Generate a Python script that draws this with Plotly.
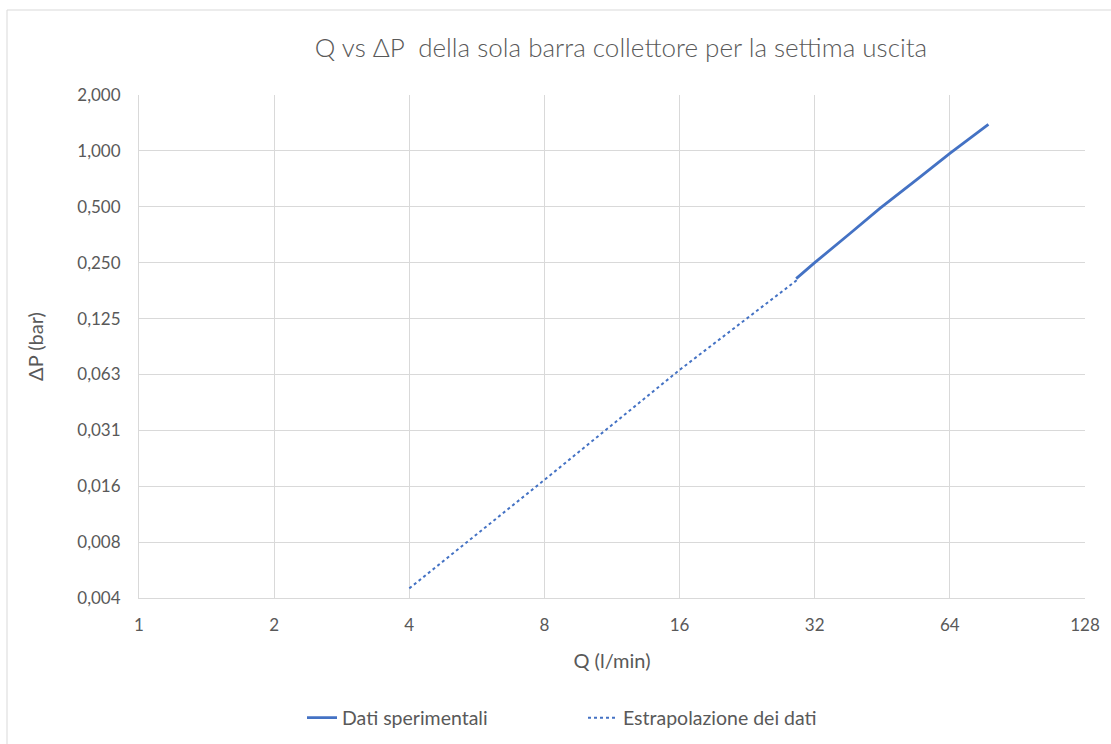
import math
import plotly.graph_objects as go

# Data
q_exp = [29.1, 32.0, 38.4, 44.7, 54.0, 64.0, 78.0]
dp_exp = [0.205, 0.250, 0.360, 0.490, 0.700, 0.970, 1.390]

q_extr = [4.0, 8.0, 16.0, 29.5]
dp_extr = [0.0044, 0.0169, 0.0661, 0.205]

x_tickvals = [1, 2, 4, 8, 16, 32, 64, 128]
x_ticktext = ["1", "2", "4", "8", "16", "32", "64", "128"]
y_tickvals = [2**-8, 2**-7, 2**-6, 2**-5, 2**-4, 2**-3, 2**-2, 2**-1, 1, 2]
y_ticktext = ["0,004", "0,008", "0,016", "0,031", "0,063", "0,125", "0,250", "0,500", "1,000", "2,000"]

FONT = "Lato"
GRAY = "#595959"
GRID = "#d9d9d9"
BLUE = "#4472C4"

fig = go.Figure()
fig.add_trace(go.Scatter(x=q_exp, y=dp_exp, mode="lines", name="Dati sperimentali",
                         line=dict(color=BLUE, width=2.8)))
fig.add_trace(go.Scatter(x=q_extr, y=dp_extr, mode="lines", name="Estrapolazione dei dati",
                         line=dict(color=BLUE, width=2, dash="dot")))

B = 146
H_PLOT = 744 - 95 - B

fig.update_layout(
    width=1111, height=744,
    margin=dict(l=139, r=26, t=95, b=B, autoexpand=False),
    paper_bgcolor="white", plot_bgcolor="white",
    font=dict(family=FONT, color=GRAY),
    title=dict(text="Q vs ΔP  della sola barra collettore per la settima uscita",
               x=621/1111, xanchor="center", xref="container",
               y=1-48/744, yanchor="middle", yref="container",
               font=dict(size=26, color=GRAY, family=FONT, weight=300)),
    xaxis=dict(type="log", range=[0, math.log10(128)],
               tickmode="array", tickvals=x_tickvals, ticktext=x_ticktext,
               showgrid=True, gridcolor=GRID, gridwidth=1,
               showline=True, linecolor=GRID, linewidth=1, mirror=False,
               zeroline=False, ticks="outside", ticklen=12, tickcolor="rgba(0,0,0,0)",
               tickfont=dict(size=17, color=GRAY),
               title=dict(text="Q (l/min)", font=dict(size=20, color=GRAY), standoff=19)),
    yaxis=dict(type="log", range=[math.log10(2**-8), math.log10(2)],
               tickmode="array", tickvals=y_tickvals, ticktext=y_ticktext,
               showgrid=True, gridcolor=GRID, gridwidth=1,
               showline=True, linecolor=GRID, linewidth=1,
               zeroline=False, ticks="outside", ticklen=14, tickcolor="rgba(0,0,0,0)",
               tickfont=dict(size=17, color=GRAY),
               title=dict(text="ΔP (bar)", font=dict(size=20, color=GRAY), standoff=28)),
    legend=dict(orientation="h", x=(583-139)/946, xanchor="center",
                y=(744 - B - 718)/H_PLOT, yanchor="middle",
                entrywidth=236, entrywidthmode="pixels",
                font=dict(size=19.5, color=GRAY), bgcolor="rgba(0,0,0,0)"),
    showlegend=True,
    shapes=[dict(type="rect", xref="paper", yref="paper",
                 x0=(7-139)/946, x1=1.2, y0=-0.5, y1=(744 - B - 10)/H_PLOT,
                 line=dict(color=GRID, width=1), layer="below")],
)

fig.write_html("out.html", config={"displayModeBar": False},
               post_script="document.body.style.margin='0';document.body.style.overflow='hidden';")
